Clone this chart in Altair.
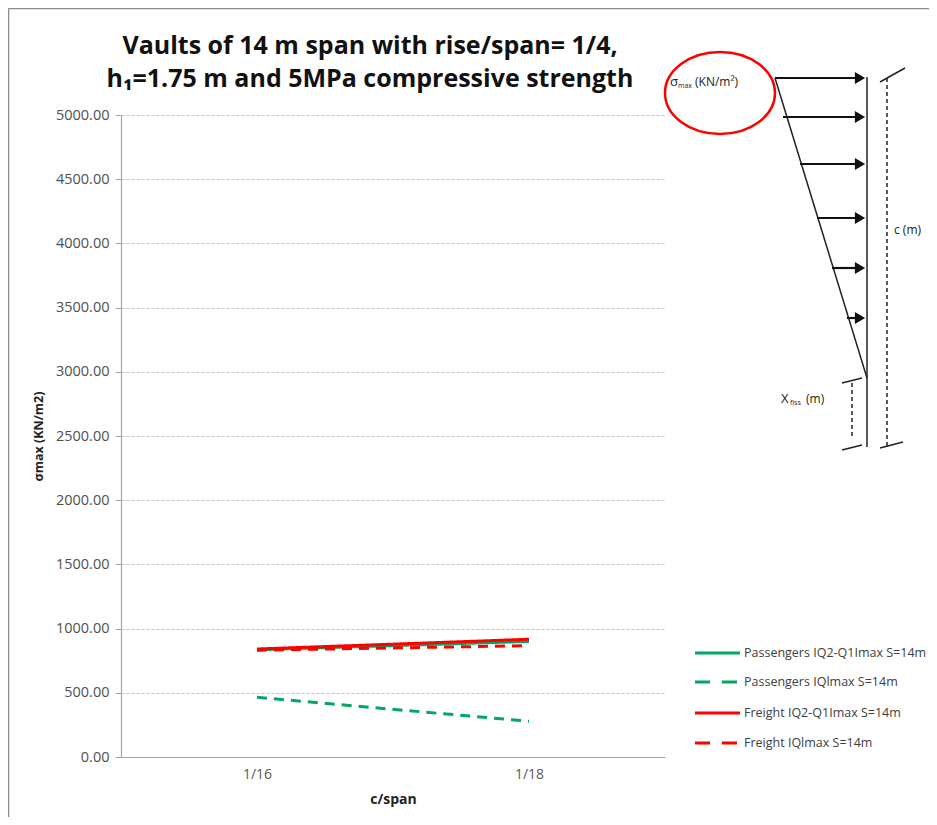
import altair as alt
import pandas as pd

# ---------------- data ----------------
categories = ["1/16", "1/18"]
series_names = [
    "Passengers IQ2-Q1Imax S=14m",
    "Passengers IQlmax S=14m",
    "Freight IQ2-Q1Imax S=14m",
    "Freight IQlmax S=14m",
]
passengers_iq2 = [835, 900]
passengers_iql = [465, 278]
freight_iq2 = [841, 917]
freight_iql = [832, 867]
series_colors = ["#00A862", "#00A862", "#FF0000", "#FF0000"]
series_dash = [[1, 0], [10, 7], [1, 0], [10, 7]]
legend_dash = [[1, 0], [15, 12], [1, 0], [15, 12]]
y_ticks = [0, 500, 1000, 1500, 2000, 2500, 3000, 3500, 4000, 4500, 5000]

title_lines = ["Vaults of 14 m span with rise/span= 1/4,",
               "h\u2081=1.75 m and 5MPa compressive strength"]

rows = []
for name, vals in zip(series_names, [passengers_iq2, passengers_iql, freight_iq2, freight_iql]):
    for c, v in zip(categories, vals):
        rows.append({"c_span": c, "value": v, "series": name})
df = pd.DataFrame(rows)

# plot-area origin in page pixels (for decoration layers)
OX, OY = 121, 115
W, H = 544, 642

main = alt.Chart(df).mark_line(strokeWidth=3).encode(
    x=alt.X("c_span:N", sort=categories,
            scale=alt.Scale(type="point", padding=0.5),
            axis=alt.Axis(title="c/span", labelAngle=0, grid=False, ticks=False,
                          labelFontSize=14, labelColor="#595959", labelPadding=10,
                          titleFontSize=14, titleFontWeight="bold", titleColor="#222222",
                          titlePadding=11, domainColor="#a6a6a6", domainWidth=1.2,
                          labelFont="Open Sans", titleFont="Open Sans")),
    y=alt.Y("value:Q", scale=alt.Scale(domain=[0, 5000], nice=False),
            axis=alt.Axis(title="\u03c3max (KN/m2)", values=y_ticks, format=".2f",
                          gridColor="#c4c4c4", gridDash=[3, 2], gridWidth=1,
                          tickColor="#a6a6a6", tickSize=6, domainColor="#a6a6a6",
                          domainWidth=1.2, labelFontSize=14.5, labelColor="#505050",
                          labelPadding=6, titleFontSize=12.5, titleFontWeight="bold",
                          titleColor="#222222", titlePadding=10,
                          labelFont="Open Sans", titleFont="Open Sans")),
    color=alt.Color("series:N", scale=alt.Scale(domain=series_names, range=series_colors), legend=None),
    strokeDash=alt.StrokeDash("series:N", scale=alt.Scale(domain=series_names, range=series_dash), legend=None),
)

# ---------- custom legend ----------
leg_y = [653, 682, 713, 743]
leg_df = pd.DataFrame({
    "series": series_names,
    "x1": [695 - OX] * 4, "x2": [740 - OX] * 4,
    "y": [v - OY for v in leg_y],
    "tx": [744 - OX] * 4,
})
leg_lines = alt.Chart(leg_df).mark_rule(strokeWidth=3).encode(
    x=alt.X("x1:Q", scale=None), x2="x2:Q", y=alt.Y("y:Q", scale=None),
    color=alt.Color("series:N", scale=alt.Scale(domain=series_names, range=series_colors), legend=None),
    strokeDash=alt.StrokeDash("series:N", scale=alt.Scale(domain=series_names, range=legend_dash), legend=None),
)
leg_text = alt.Chart(leg_df).mark_text(align="left", baseline="middle", fontSize=12.5,
                                       font="Open Sans", color="#404040").encode(
    x=alt.X("tx:Q", scale=None), y=alt.Y("y:Q", scale=None), text="series:N")

# ---------- title ----------
title_df = pd.DataFrame({"t": title_lines, "x": [370 - OX, 370 - OX], "y": [54 - OY, 87 - OY]})
title = alt.Chart(title_df).mark_text(align="center", baseline="alphabetic", fontSize=25,
                                      fontWeight="bold", font="Open Sans", color="#111111").encode(
    x=alt.X("x:Q", scale=None), y=alt.Y("y:Q", scale=None), text="t:N")

# ---------- schematic diagram ----------
solid_segs = [
    (867, 77, 867, 447), (775, 78, 867, 378),
    (880, 82, 905, 68), (880, 448, 903, 442),
    (842, 383, 862, 378), (842, 450, 862, 445),
]
arrow_segs = [(775, 78), (783, 117), (800, 164), (817, 218), (832, 268), (847, 318)]
dashed_segs = [(887, 78, 887, 447), (852, 383, 852, 438)]

seg_df = pd.DataFrame([{"x1": a - OX, "y1": b - OY, "x2": c - OX, "y2": d - OY} for a, b, c, d in solid_segs])
arr_df = pd.DataFrame([{"x1": a - OX, "y1": b - OY, "x2": 857 - OX, "y2": b - OY, "hx": 860 - OX} for a, b in arrow_segs])
dash_df = pd.DataFrame([{"x1": a - OX, "y1": b - OY, "x2": c - OX, "y2": d - OY} for a, b, c, d in dashed_segs])

segs = alt.Chart(seg_df).mark_rule(color="#222222", strokeWidth=1.5).encode(
    x=alt.X("x1:Q", scale=None), y=alt.Y("y1:Q", scale=None), x2="x2:Q", y2="y2:Q")
arrows = alt.Chart(arr_df).mark_rule(color="#111111", strokeWidth=2.2).encode(
    x=alt.X("x1:Q", scale=None), y=alt.Y("y1:Q", scale=None), x2="x2:Q", y2="y2:Q")
heads = alt.Chart(arr_df).mark_point(shape="triangle-right", filled=True, color="#111111",
                                     size=140, opacity=1).encode(
    x=alt.X("hx:Q", scale=None), y=alt.Y("y1:Q", scale=None))
dashes = alt.Chart(dash_df).mark_rule(color="#222222", strokeWidth=1.5, strokeDash=[4, 3]).encode(
    x=alt.X("x1:Q", scale=None), y=alt.Y("y1:Q", scale=None), x2="x2:Q", y2="y2:Q")

diag_text_df = pd.DataFrame([
    {"t": "\u03c3", "x": 670 - OX, "y": 82 - OY, "s": 13},
    {"t": "max", "x": 678 - OX, "y": 86 - OY, "s": 7},
    {"t": "(KN/m\u00b2)", "x": 695 - OX, "y": 82 - OY, "s": 12},
    {"t": "c (m)", "x": 894 - OX, "y": 230 - OY, "s": 12},
    {"t": "X", "x": 781 - OX, "y": 399 - OY, "s": 13},
    {"t": "fiss", "x": 790 - OX, "y": 403 - OY, "s": 7},
    {"t": "(m)", "x": 806 - OX, "y": 399 - OY, "s": 12},
])
diag_text = alt.Chart(diag_text_df).mark_text(align="left", baseline="middle", font="Open Sans",
                                              color="#222222").encode(
    x=alt.X("x:Q", scale=None), y=alt.Y("y:Q", scale=None), text="t:N",
    size=alt.Size("s:Q", scale=None, legend=None))

ell_df = pd.DataFrame({"x": [720 - OX], "y": [93 - OY]})
ellipse = alt.Chart(ell_df).mark_point(
    shape="M -1 0 A 1 0.745 0 1 0 1 0 A 1 0.745 0 1 0 -1 0 Z",
    filled=False, color="#FF0000", strokeWidth=2.5, size=110 * 110, opacity=1).encode(
    x=alt.X("x:Q", scale=None), y=alt.Y("y:Q", scale=None))

# ---------- outer frame (top and left edges) ----------
frame_df = pd.DataFrame([
    {"x1": 8.5 - OX, "y1": 8.5 - OY, "x2": 940 - OX, "y2": 8.5 - OY},
    {"x1": 8.5 - OX, "y1": 8.5 - OY, "x2": 8.5 - OX, "y2": 830 - OY},
])
frame = alt.Chart(frame_df).mark_rule(color="#8c8c8c", strokeWidth=1.5).encode(
    x=alt.X("x1:Q", scale=None), y=alt.Y("y1:Q", scale=None), x2="x2:Q", y2="y2:Q")

chart = alt.layer(
    frame, main, leg_lines, leg_text, title, segs, dashes, arrows, heads, diag_text, ellipse
).resolve_scale(
    x="independent", y="independent", color="independent", strokeDash="independent", size="independent"
).properties(
    width=W, height=H,
    autosize=alt.AutoSizeParams(type="none"),
    padding={"left": OX - 8, "top": OY - 8, "right": 929 - (OX + W), "bottom": 817 - (OY + H)},
    background="white",
).configure_view(strokeWidth=0)

chart.save("out.html", embed_options={"renderer": "svg", "actions": False})
